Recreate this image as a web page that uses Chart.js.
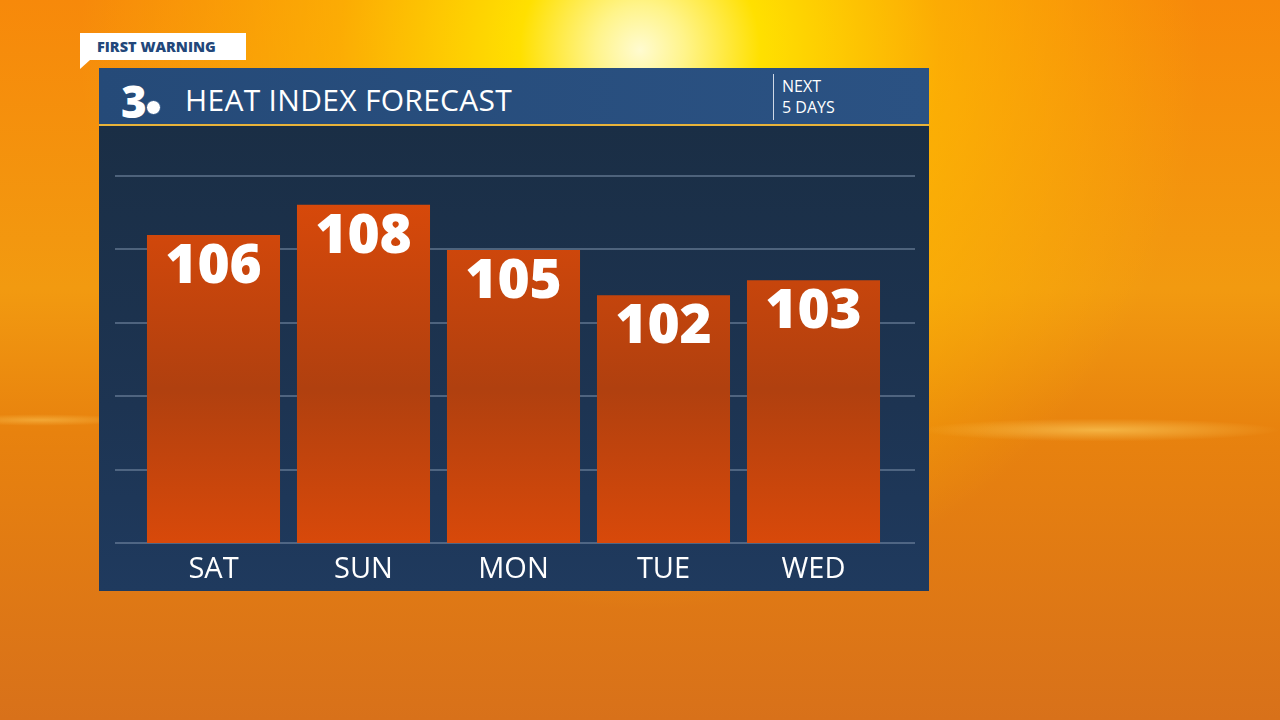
<!DOCTYPE html>
<html><head><meta charset="utf-8">
<script src="https://cdn.jsdelivr.net/npm/chart.js@4"></script>
<style>
html,body{margin:0;width:1280px;height:720px;overflow:hidden;font-family:'Open Sans',sans-serif}
#bg{position:absolute;left:0;top:0;width:1280px;height:720px;
background:
 radial-gradient(circle at 640px 50px,#fffbd0 0,#fff48a 45px,#ffe000 120px,rgba(255,190,0,0.65) 300px,rgba(255,150,0,0) 560px),
 linear-gradient(180deg,#f7890a 0%,#f29a10 40%,#e8820e 60%,#d8711a 100%);}
#cloud{position:absolute;left:0;top:380px;width:1280px;height:120px;
background:radial-gradient(ellipse at 1100px 50px,rgba(255,220,110,0.55) 0,rgba(255,200,80,0) 180px),
radial-gradient(ellipse at 40px 40px,rgba(255,210,100,0.45) 0,rgba(255,200,80,0) 90px);}
#tag{position:absolute;left:80px;top:33px;width:166px;height:27px;background:#fff;color:#22477a;font-weight:800;font-size:14.5px;line-height:27px;text-indent:17px}
#tag:after{content:'';position:absolute;left:0;top:27px;border-left:10px solid #fff;border-bottom:9px solid transparent}
#head{position:absolute;left:99px;top:68px;width:830px;height:58px;background:linear-gradient(90deg,#254a78,#2b5283);border-bottom:2px solid #e8b33a;box-sizing:border-box}
#panel{position:absolute;left:99px;top:126px;width:830px;height:465px;background:linear-gradient(180deg,#1a2e45,#1d3452 60%,#1f3a5e)}
#logo{position:absolute;left:22px;top:3px;color:#fff;font-weight:800;font-size:44px;font-family:'Open Sans'}
#eye{position:absolute;left:47px;top:32px;width:13px;height:13px;border-radius:50%;background:#fff;border:1px solid #2b5283}
#title{position:absolute;left:86px;top:11px;color:#fff;font-size:30px;letter-spacing:0.3px}
#div{position:absolute;left:674px;top:6px;width:1px;height:46px;background:#cfd8e6}
#next{position:absolute;left:683px;top:8px;color:#fff;font-size:16px;line-height:21px}
canvas{position:absolute;left:0;top:0}
</style></head><body>
<div id="bg"></div><div id="cloud"></div>
<div id="tag">FIRST WARNING</div>
<div id="head"><div id="logo">3</div><div id="eye"></div><div id="title">HEAT INDEX FORECAST</div><div id="div"></div><div id="next">NEXT<br>5 DAYS</div></div>
<div id="panel"></div>
<canvas id="c" width="1280" height="720"></canvas>
<script>
const days = ['SAT', 'SUN', 'MON', 'TUE', 'WED'];
const heatIndex = [106, 108, 105, 102, 103];
const yMin = 85.6, yMax = 109.9;

const panelGrid = {
  id: 'panelGrid',
  beforeDatasetsDraw(chart) {
    const ctx = chart.ctx, y = chart.scales.y;
    ctx.save();
    ctx.strokeStyle = 'rgba(120,140,165,0.55)';
    ctx.lineWidth = 2;
    y.ticks.forEach(t => {
      const py = Math.round(y.getPixelForValue(t.value));
      ctx.beginPath(); ctx.moveTo(115, py); ctx.lineTo(915, py); ctx.stroke();
    });
    ctx.restore();
  },
  afterDatasetsDraw(chart) {
    const ctx = chart.ctx;
    ctx.save();
    ctx.fillStyle = '#fff';
    ctx.textAlign = 'center';
    ctx.textBaseline = 'top';
    ctx.font = '800 55px "Open Sans"';
    chart.getDatasetMeta(0).data.forEach((b, i) => {
      ctx.fillText(heatIndex[i], b.x, b.y + 5);
    });
    ctx.restore();
  }
};

new Chart(document.getElementById('c'), {
  type: 'bar',
  data: {
    labels: days,
    datasets: [{
      data: heatIndex,
      backgroundColor: (c) => {
        const g = c.chart.ctx.createLinearGradient(0, 200, 0, 543);
        g.addColorStop(0, '#d8490a');
        g.addColorStop(0.55, '#b0400f');
        g.addColorStop(1, '#d8490a');
        return g;
      },
      barPercentage: 0.887,
      categoryPercentage: 1
    }]
  },
  options: {
    responsive: false,
    animation: false,
    layout: { padding: { left: 138.5, right: 391.5, top: 176, bottom: 0 } },
    plugins: { legend: { display: false }, tooltip: { enabled: false } },
    scales: {
      x: {
        grid: { display: false }, border: { display: false },
        ticks: { color: '#fff', font: { family: 'Open Sans', size: 29 }, padding: 1 },
        afterFit: (s) => { s.height = 177; }
      },
      y: {
        min: yMin, max: yMax, display: true,
        grid: { display: false }, border: { display: false },
        ticks: { display: false },
        afterFit: (s) => { s.width = 0; },
        afterBuildTicks: (s) => {
          const step = (yMax - yMin) / 5;
          s.ticks = [0, 1, 2, 3, 4, 5].map(i => ({ value: yMin + i * step }));
        }
      }
    }
  },
  plugins: [panelGrid]
});
</script>
</body></html>
